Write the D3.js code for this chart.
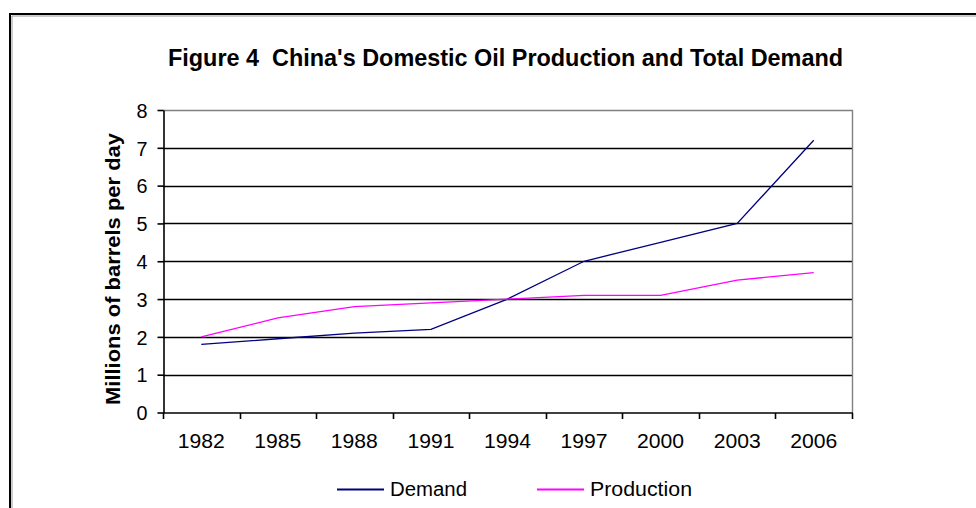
<!DOCTYPE html>
<html>
<head>
<meta charset="utf-8">
<script src="https://cdn.jsdelivr.net/npm/d3@7"></script>
<style>
  body { margin: 0; background: #fff; }
  text { font-family: Arial, "Liberation Sans", sans-serif; fill: #000; white-space: pre; }
</style>
</head>
<body>
<div id="container"></div>
<script>
// data
var years = ["1982", "1985", "1988", "1991", "1994", "1997", "2000", "2003", "2006"];
var demand = [1.8, 1.95, 2.1, 2.2, 3.0, 4.0, 4.5, 5.0, 7.2];
var production = [2.0, 2.5, 2.8, 2.9, 3.0, 3.1, 3.1, 3.5, 3.7];
var yTicks = [0, 1, 2, 3, 4, 5, 6, 7, 8];
var seriesNames = ["Demand", "Production"];

var width = 976, height = 508;
var plotLeft = 163, plotRight = 852, plotTop = 110, plotBottom = 412.5;

var svg = d3.select("#container").append("svg")
    .attr("width", width)
    .attr("height", height);

// outer frame (only top and left edges show)
svg.append("path")
    .attr("d", "M10,520 L10,14 L990,14")
    .style("fill", "none").style("stroke", "#000").style("stroke-width", 2);
svg.append("path")
    .attr("d", "M12,520 L12,16 L990,16")
    .style("fill", "none").style("stroke", "#999").style("stroke-width", 1);

// title
svg.append("text")
    .attr("x", 168).attr("y", 66)
    .attr("textLength", 675).attr("lengthAdjust", "spacingAndGlyphs")
    .style("font-size", "24px").style("font-weight", "bold")
    .text("Figure 4  China's Domestic Oil Production and Total Demand");

var x = d3.scaleBand().domain(years).range([plotLeft, plotRight]);
var y = d3.scaleLinear().domain([0, 8]).range([plotBottom, plotTop]);

// gridlines
svg.append("g").selectAll("line")
    .data(yTicks.filter(function(d) { return d > 0 && d < 8; }))
    .enter().append("line")
    .attr("x1", plotLeft).attr("x2", plotRight)
    .attr("y1", function(d) { return Math.round(y(d)) + 0.5; })
    .attr("y2", function(d) { return Math.round(y(d)) + 0.5; })
    .style("stroke", "#000").style("stroke-width", 1.6);

// plot border top / right
svg.append("path")
    .attr("d", "M" + plotLeft + "," + (plotTop + 0.5) + " L" + (plotRight + 0.5) + "," + (plotTop + 0.5) + " L" + (plotRight + 0.5) + "," + plotBottom)
    .style("fill", "none").style("stroke", "#808080").style("stroke-width", 1.4);

// y axis
var yAxis = svg.append("g")
    .attr("transform", "translate(" + (plotLeft + 0.5) + ",0)")
    .call(d3.axisLeft(y).tickValues(yTicks).tickSize(6).tickSizeOuter(0).tickPadding(0));
yAxis.select(".domain").style("stroke", "#000").style("stroke-width", 1.6);
yAxis.selectAll(".tick line").style("stroke", "#000").style("stroke-width", 1.6);
yAxis.selectAll(".tick text")
    .attr("x", -16).attr("dy", "0.36em")
    .style("font-size", "20px").style("font-family", "Arial, 'Liberation Sans', sans-serif")
    .attr("textLength", 11).attr("lengthAdjust", "spacingAndGlyphs");

// x axis (ticks at category boundaries)
var xb = svg.append("g").attr("transform", "translate(0," + (plotBottom + 0.5) + ")");
xb.append("line").attr("x1", plotLeft).attr("x2", plotRight + 1)
    .style("stroke", "#000").style("stroke-width", 1.6);
xb.selectAll(".xt")
    .data(years.concat(["end"]))
    .enter().append("line")
    .attr("class", "xt")
    .attr("x1", function(d, i) { return i < years.length ? Math.round(x(d)) + 0.5 : plotRight + 0.5; })
    .attr("x2", function(d, i) { return i < years.length ? Math.round(x(d)) + 0.5 : plotRight + 0.5; })
    .attr("y1", 0).attr("y2", 6)
    .style("stroke", "#000").style("stroke-width", 1.6);
xb.selectAll(".xl")
    .data(years)
    .enter().append("text")
    .attr("class", "xl")
    .attr("x", function(d) { return x(d) + x.bandwidth() / 2; })
    .attr("y", 35)
    .attr("text-anchor", "middle")
    .attr("textLength", 47).attr("lengthAdjust", "spacingAndGlyphs")
    .style("font-size", "20px")
    .text(function(d) { return d; });

// y axis title
svg.append("text")
    .attr("transform", "translate(120,269) rotate(-90)")
    .attr("text-anchor", "middle")
    .attr("textLength", 272).attr("lengthAdjust", "spacingAndGlyphs")
    .style("font-size", "21px").style("font-weight", "bold")
    .text("Millions of barrels per day");

// lines
var line = d3.line()
    .x(function(d, i) { return x(years[i]) + x.bandwidth() / 2; })
    .y(function(d) { return y(d); });

var colors = ["#000080", "#ff00ff"];
[demand, production].forEach(function(s, i) {
    svg.append("path")
        .datum(s)
        .attr("d", line)
        .style("fill", "none")
        .style("stroke", colors[i])
        .style("stroke-width", 1.3);
});

// legend
var legendX = [337, 537];
var legendLen = [77, 102];
var lg = svg.append("g");
seriesNames.forEach(function(name, i) {
    lg.append("line")
        .attr("x1", legendX[i]).attr("x2", legendX[i] + 47)
        .attr("y1", 489.5).attr("y2", 489.5)
        .style("stroke", colors[i]).style("stroke-width", 2);
    lg.append("text")
        .attr("x", legendX[i] + 53).attr("y", 496)
        .attr("textLength", legendLen[i]).attr("lengthAdjust", "spacingAndGlyphs")
        .style("font-size", "20px")
        .text(name);
});
</script>
</body>
</html>
